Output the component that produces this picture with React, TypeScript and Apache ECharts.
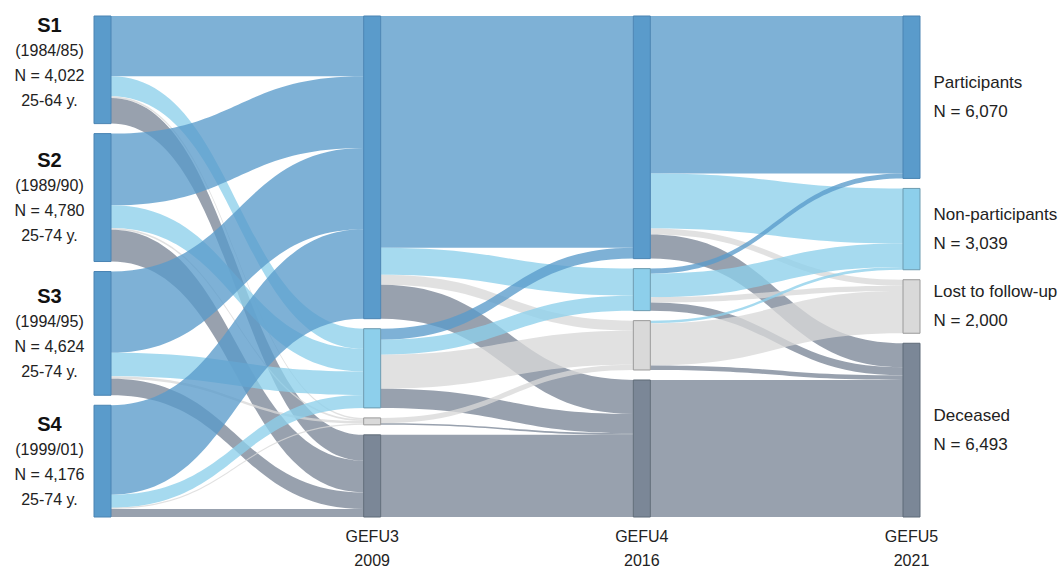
import React, { useEffect, useRef } from "react";
import * as echarts from "echarts";

// ---- Data ----
const cohorts = ["S1", "S2", "S3", "S4"];
const cohortYears = ["(1984/85)", "(1989/90)", "(1994/95)", "(1999/01)"];
const cohortN = [4022, 4780, 4624, 4176];
const cohortAges = ["25-64 y.", "25-74 y.", "25-74 y.", "25-74 y."];

const states = ["Participants", "Non-participants", "Lost to follow-up", "Deceased"];
const stateKeys = ["P", "NP", "L", "D"];
const waves = ["GEFU3", "GEFU4", "GEFU5"];
const waveYears = ["2009", "2016", "2021"];

// rows: source (cohort / state), columns: target state (P, NP, L, D)
const flowsCohortToG3 = [
  [2252, 750, 60, 960],
  [2680, 850, 60, 1190],
  [3034, 880, 90, 620],
  [3346, 480, 50, 300],
];
const flowsG3ToG4 = [
  [8657, 1010, 375, 1270],
  [410, 560, 1270, 720],
  [0, 0, 200, 60],
  [0, 0, 0, 3070],
];
const flowsG4ToG5 = [
  [5882, 2060, 225, 900],
  [188, 880, 200, 302],
  [0, 99, 1575, 171],
  [0, 0, 0, 5120],
];

// ---- Styles ----
const stateColors = ["#5a9bcb", "#8dcfeb", "#d9d9d9", "#7b8797"];
const stateBorders = ["#4a84b3", "#6c9bb0", "#9a9a9a", "#5f6b78"];
const FONT = "'Liberation Sans', Arial, Helvetica, sans-serif";

const SANKEY_LEFT = 94;
const SANKEY_RIGHT = 142;
const SANKEY_TOP = 16;
const SANKEY_BOTTOM = 54;
const NODE_WIDTH = 17;
const CHART_W = 1062;

function fmt(n: number) {
  return n.toLocaleString("en-US");
}

export default function App() {
  const ref = useRef<HTMLDivElement>(null);

  useEffect(() => {
    if (!ref.current) return;
    const chart = echarts.init(ref.current, undefined, { renderer: "svg" });

    const nodes: any[] = [];
    cohorts.forEach((c, i) => {
      nodes.push({
        name: c,
        itemStyle: { color: stateColors[0], borderColor: stateBorders[0], borderWidth: 1 },
        label: {
          show: true,
          position: "left",
          distance: 44,
          align: "center",
          offset: i === 0 ? [0, -7] : [0, 0],
          formatter: `{b|${c}}\n{n|${cohortYears[i]}}\n{n|N = ${fmt(cohortN[i])}}\n{n|${cohortAges[i]}}`,
          rich: {
            b: { fontSize: 20, fontWeight: "bold", lineHeight: 26, color: "#111", fontFamily: FONT },
            n: { fontSize: 16, lineHeight: 25, color: "#222", fontFamily: FONT },
          },
        },
      });
    });

    const g5Totals = states.map((_, j) => flowsG4ToG5.reduce((s, row) => s + row[j], 0));

    waves.forEach((w, wi) => {
      states.forEach((s, si) => {
        const isLast = wi === waves.length - 1;
        nodes.push({
          name: `${stateKeys[si]}_${w}`,
          itemStyle: { color: stateColors[si], borderColor: stateBorders[si], borderWidth: 1 },
          label: isLast
            ? {
                show: true,
                position: "right",
                distance: 13,
                formatter: `{a|${s}}\n{a|N = ${fmt(g5Totals[si])}}`,
                rich: { a: { fontSize: 17, lineHeight: 29, color: "#222", fontFamily: FONT } },
              }
            : { show: false },
        });
      });
    });

    const links: any[] = [];
    flowsCohortToG3.forEach((row, i) =>
      row.forEach((v, j) => {
        if (v > 0) links.push({ source: cohorts[i], target: `${stateKeys[j]}_${waves[0]}`, value: v });
      })
    );
    flowsG3ToG4.forEach((row, i) =>
      row.forEach((v, j) => {
        if (v > 0)
          links.push({ source: `${stateKeys[i]}_${waves[0]}`, target: `${stateKeys[j]}_${waves[1]}`, value: v });
      })
    );
    flowsG4ToG5.forEach((row, i) =>
      row.forEach((v, j) => {
        if (v > 0)
          links.push({ source: `${stateKeys[i]}_${waves[1]}`, target: `${stateKeys[j]}_${waves[2]}`, value: v });
      })
    );

    const innerW = CHART_W - SANKEY_LEFT - SANKEY_RIGHT;
    const step = (innerW - NODE_WIDTH) / 3;
    const graphics = waves.map((w, i) => ({
      type: "text",
      x: SANKEY_LEFT + (i + 1) * step + NODE_WIDTH / 2,
      y: 524,
      style: {
        text: `${w}\n${waveYears[i]}`,
        textAlign: "center",
        fontSize: 16,
        lineHeight: 24,
        fill: "#222",
        fontFamily: FONT,
      },
    }));

    chart.setOption({
      animation: false,
      textStyle: { fontFamily: FONT },
      graphic: graphics,
      series: [
        {
          type: "sankey",
          left: SANKEY_LEFT,
          right: SANKEY_RIGHT,
          top: SANKEY_TOP,
          bottom: SANKEY_BOTTOM,
          nodeWidth: NODE_WIDTH,
          nodeGap: 10,
          layoutIterations: 0,
          draggable: false,
          emphasis: { disabled: true },
          label: { show: false },
          lineStyle: { color: "target", opacity: 0.78, curveness: 0.5 },
          data: nodes,
          links,
        },
      ],
    });

    return () => chart.dispose();
  }, []);

  return (
    <div
      ref={ref}
      style={{ position: "fixed", left: 0, top: 0, width: "1062px", height: "571px", background: "#fff" }}
    />
  );
}
